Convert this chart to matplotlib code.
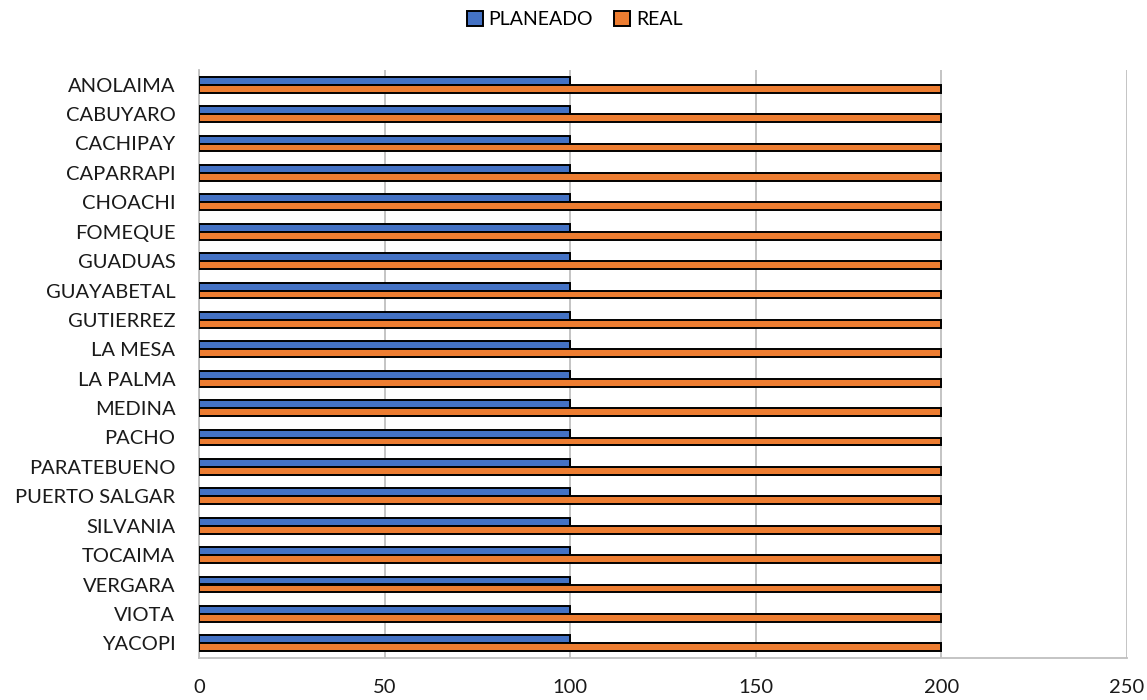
import numpy as np
import matplotlib.pyplot as plt

municipios = ['ANOLAIMA', 'CABUYARO', 'CACHIPAY', 'CAPARRAPI', 'CHOACHI', 'FOMEQUE',
              'GUADUAS', 'GUAYABETAL', 'GUTIERREZ', 'LA MESA', 'LA PALMA', 'MEDINA',
              'PACHO', 'PARATEBUENO', 'PUERTO SALGAR', 'SILVANIA', 'TOCAIMA',
              'VERGARA', 'VIOTA', 'YACOPI']
planeado = [100] * 20
real = [200] * 20

plt.rcParams['font.family'] = ['Lato', 'DejaVu Sans']

fig = plt.figure(figsize=(11.47, 7.0), dpi=100)
ax = fig.add_axes([0.1735, 0.06, 0.8091, 0.84])

y = np.arange(len(municipios))
h = 0.27
ax.barh(y - h / 2, planeado, height=h, color='#4472C4', edgecolor='black', linewidth=1.4, label='PLANEADO', zorder=3)
ax.barh(y + h / 2, real, height=h, color='#ED7D31', edgecolor='black', linewidth=1.4, label='REAL', zorder=3)

ax.set_xlim(0, 250)
ax.set_ylim(len(municipios) - 0.5, -0.5)
ax.set_xticks([0, 50, 100, 150, 200, 250])
ax.set_yticks(y)
ax.set_yticklabels(municipios)
ax.xaxis.grid(True, color='#BFBFBF', linewidth=1.3, zorder=0)
ax.set_axisbelow(True)

for s in ['top', 'right']:
    ax.spines[s].set_visible(False)
for s in ['left', 'bottom']:
    ax.spines[s].set_color('#BFBFBF')
    ax.spines[s].set_linewidth(1.3)

ax.tick_params(axis='both', length=0, labelsize=14.5, colors='#1a1a1a')
ax.tick_params(axis='x', pad=15)
ax.tick_params(axis='y', pad=17)

ax.legend(loc='upper center', bbox_to_anchor=(0.405, 1.13), ncol=2, frameon=False,
          fontsize=14, handlelength=0.8, handleheight=0.8, handletextpad=0.3, columnspacing=1.1)

plt.savefig('out.png', dpi=100)
